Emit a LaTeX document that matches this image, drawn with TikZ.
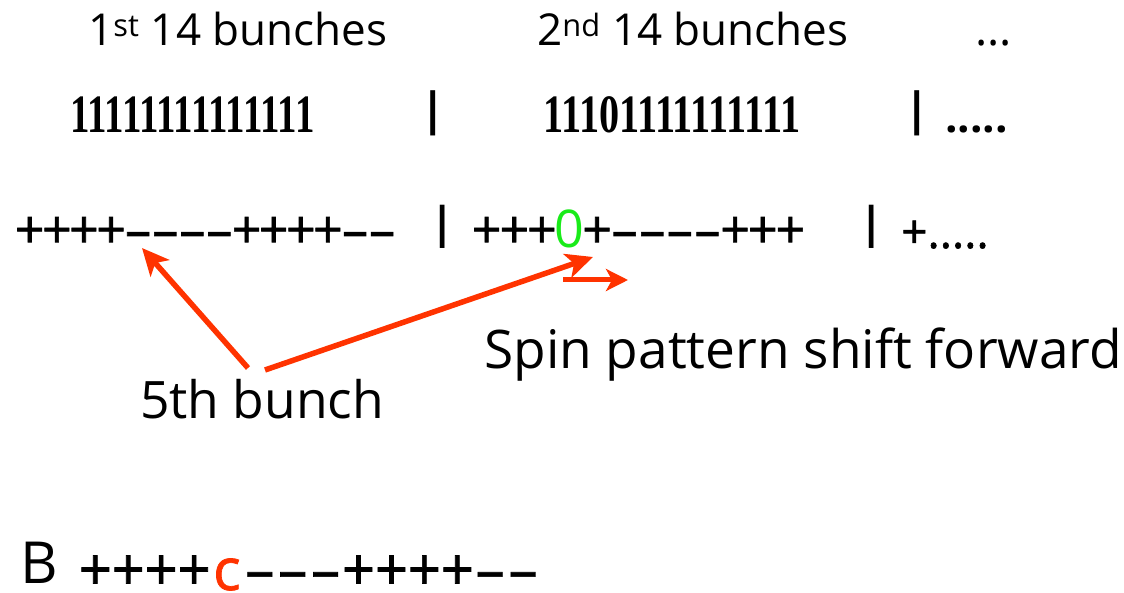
\documentclass[tikz,border=0pt]{standalone}
\usepackage{fontspec}
\setmainfont{Open Sans}
\newfontfamily\digitfont{Liberation Serif}
\newfontfamily\plusfont[FakeBold=1.2]{Open Sans}
\usepackage{graphicx}
\usetikzlibrary{arrows.meta}
\definecolor{arrred}{RGB}{255,51,0}
\definecolor{zgreen}{RGB}{25,235,25}
\newcommand\fs[1]{\fontsize{#1}{#1}\selectfont}
\newlength\pitch
\newcommand\PL{\makebox[\pitch]{+}}
\newcommand\MN{\makebox[\pitch]{–}}
\begin{document}
\begin{tikzpicture}[x=1pt,y=-1pt,
  txt/.style={inner sep=0pt, anchor=base west},
  barsep/.style={inner sep=0pt, anchor=center},
  redarrow/.style={draw=arrred, line width=5.5pt, -{Stealth[length=27pt,width=25pt,inset=7pt]}},
  smallarrow/.style={draw=arrred, line width=5pt, -{Stealth[length=22pt,width=22pt,inset=6pt]}}]
\useasboundingbox (0,0) rectangle (1124,593);
% header row
\node[txt,font=\fs{44}] (h1) at (88,46) {1\textsuperscript{st} 14 bunches};
\node[txt,font=\fs{44}] (h2) at (537,46) {2\textsuperscript{nd} 14 bunches};
\node[txt,font=\fs{46}] (hd) at (975,46) {...};
% bit row
\node[txt,font=\digitfont\bfseries\fs{54}] (b1) at (70,133) {\scalebox{0.72}[1]{11111111111111}};
\node[barsep,font=\bfseries\fs{46}] (s1) at (433,113.5) {|};
\node[txt,font=\digitfont\bfseries\fs{54}] (b2) at (543,133) {\scalebox{0.745}[1]{11101111111111}};
\node[barsep,font=\bfseries\fs{46}] (s2) at (917.5,113.5) {|};
\node[txt,font=\bfseries\fs{44}] (bd) at (945,133) {.....};
% spin row
\node[txt,font=\plusfont\fs{52}] (p1) at (16,248)
  {\setlength\pitch{27.1pt}\PL\PL\PL\PL\MN\MN\MN\MN\PL\PL\PL\PL\MN\MN};
\node[barsep,font=\bfseries\fs{44}] (s3) at (443,226.5) {|};
\node[txt,font=\plusfont\fs{52}] (p2) at (472.7,248)
  {\setlength\pitch{27.6pt}\PL\PL\PL\makebox[\pitch]{\textcolor{zgreen}{\normalfont 0}}\PL\MN\MN\MN\MN\PL\PL\PL};
\node[barsep,font=\bfseries\fs{44}] (s4) at (872,226.5) {|};
\node[txt,font=\plusfont\fs{46}] (pd) at (901,248) {+.....};
% labels
\node[txt,font=\fs{53.2}] (spin) at (484,368) {Spin pattern shift forward};
\node[txt,font=\fs{51.6}] (fifth) at (140,418) {5th bunch};
% bottom row
\node[txt,font=\fs{58}] (B) at (20,583) {B};
\node[txt,font=\plusfont\fs{58}] (brow) at (78.7,590)
  {\setlength\pitch{32.9pt}\PL\PL\PL\PL\makebox[\pitch]{\textcolor{arrred}{c}}\MN\MN\MN\PL\PL\PL\PL\MN\MN};
% arrows
\coordinate (t1) at (248,368);
\coordinate (e1) at (142,248);
\coordinate (t2) at (265,370);
\coordinate (e2) at (593,257);
\coordinate (t3) at (563,280);
\coordinate (e3) at (628,280);
\draw[redarrow] (t1) -- (e1);
\draw[redarrow] (t2) -- (e2);
\draw[smallarrow] (t3) -- (e3);
\end{tikzpicture}
\end{document}
